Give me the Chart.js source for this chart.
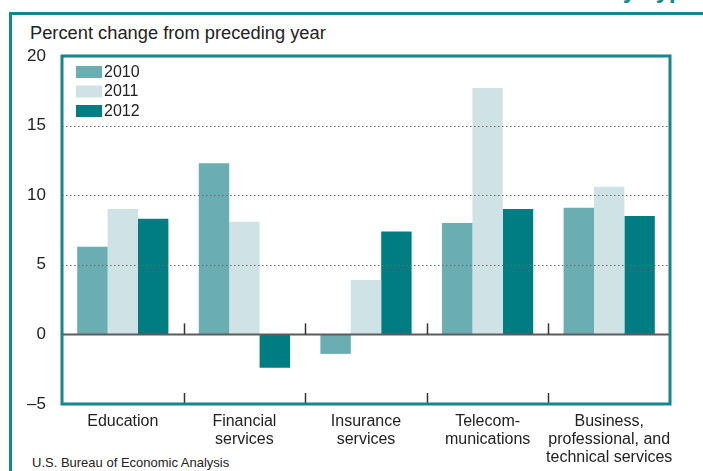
<!DOCTYPE html>
<html>
<head>
<meta charset="utf-8">
<script src="https://cdn.jsdelivr.net/npm/chart.js@4.4.1/dist/chart.umd.min.js"></script>
<style>
  html, body { margin: 0; padding: 0; background: #fff; }
  body { width: 703px; height: 471px; position: relative; overflow: hidden; font-family: "Liberation Sans", Arial, sans-serif; }
  #frame { position: absolute; left: 9px; top: 12px; width: 720px; height: 480px; border: 3px solid #14878c; box-sizing: border-box; }
  #topfrag { position: absolute; right: 6px; top: -22px; font: bold 24px/24px "Liberation Sans", Arial, sans-serif; color: #14878c; white-space: nowrap; }
  #ytitle { position: absolute; left: 30px; top: 22px; font-size: 18.3px; color: #222; white-space: nowrap; }
  #source { position: absolute; left: 32px; top: 455px; font-size: 13px; color: #222; white-space: nowrap; }
  #c { position: absolute; left: 0; top: 0; }
</style>
</head>
<body>
<div id="topfrag">by Type</div>
<div id="frame"></div>
<div id="ytitle">Percent change from preceding year</div>
<div id="source">U.S. Bureau of Economic Analysis</div>
<canvas id="c" width="703" height="471"></canvas>
<script>
const categories = [
  ["Education"],
  ["Financial", "services"],
  ["Insurance", "services"],
  ["Telecom-", "munications"],
  ["Business,", "professional, and", "technical services"]
];
const seriesNames = ["2010", "2011", "2012"];
const values2010 = [6.3, 12.3, -1.4, 8.0, 9.1];
const values2011 = [9.0, 8.1, 3.9, 17.7, 10.6];
const values2012 = [8.3, -2.4, 7.4, 9.0, 8.5];
const seriesColors = ["#6aadb3", "#cfe3e6", "#007d83"];
const yTicks = [-5, 0, 5, 10, 15, 20];

const FONT = '"Liberation Sans", Arial, sans-serif';
const TEAL = "#14878c";

const overlay = {
  id: "overlay",
  afterDatasetsDraw(chart) {
    const ctx = chart.ctx;
    const a = chart.chartArea;
    const ys = chart.scales.y, xs = chart.scales.x;
    ctx.save();
    // dotted grid lines
    ctx.setLineDash([1.5, 2.5]);
    ctx.strokeStyle = "#6d6d6d";
    ctx.lineWidth = 1;
    ys.ticks.forEach(t => {
      if (t.value === ys.min || t.value === ys.max || t.value === 0) return;
      const y = Math.round(ys.getPixelForValue(t.value)) + 0.5;
      ctx.beginPath(); ctx.moveTo(a.left, y); ctx.lineTo(a.right, y); ctx.stroke();
    });
    ctx.setLineDash([]);
    // zero line
    const y0 = ys.getPixelForValue(0);
    ctx.strokeStyle = "#5c5c5c";
    ctx.lineWidth = 2;
    ctx.beginPath(); ctx.moveTo(a.left, y0); ctx.lineTo(a.right, y0); ctx.stroke();
    // category divider ticks
    ctx.strokeStyle = "#333";
    ctx.lineWidth = 1.5;
    for (let i = 0; i < categories.length - 1; i++) {
      const x = Math.round((xs.getPixelForValue(i) + xs.getPixelForValue(i + 1)) / 2) + 0.5;
      ctx.beginPath(); ctx.moveTo(x, y0 - 11); ctx.lineTo(x, y0); ctx.stroke();
      ctx.beginPath(); ctx.moveTo(x, a.bottom - 11); ctx.lineTo(x, a.bottom); ctx.stroke();
    }
    // plot frame
    ctx.strokeStyle = TEAL;
    ctx.lineWidth = 3;
    ctx.strokeRect(a.left, a.top, a.right - a.left, a.bottom - a.top);
    // legend
    ctx.font = "16px " + FONT;
    ctx.textBaseline = "middle";
    ctx.textAlign = "left";
    chart.data.datasets.forEach((ds, i) => {
      const by = a.top + 10 + i * 19.5;
      ctx.fillStyle = ds.backgroundColor;
      ctx.fillRect(a.left + 14, by, 26, 12);
      ctx.fillStyle = "#222";
      ctx.fillText(ds.label, a.left + 42, by + 6.5);
    });
    ctx.restore();
  }
};

new Chart(document.getElementById("c"), {
  type: "bar",
  data: {
    labels: categories,
    datasets: [
      { label: seriesNames[0], data: values2010, backgroundColor: seriesColors[0] },
      { label: seriesNames[1], data: values2011, backgroundColor: seriesColors[1] },
      { label: seriesNames[2], data: values2012, backgroundColor: seriesColors[2] }
    ]
  },
  options: {
    responsive: false,
    animation: false,
    events: [],
    layout: { padding: { left: 0, top: 56, right: 33, bottom: 0 } },
    datasets: { bar: { categoryPercentage: 0.75, barPercentage: 1.0, borderWidth: 0 } },
    plugins: { legend: { display: false }, tooltip: { enabled: false }, title: { display: false } },
    scales: {
      x: {
        grid: { display: false },
        border: { display: false },
        ticks: { color: "#222", font: { family: FONT, size: 16, lineHeight: 1.15 }, padding: 0, maxRotation: 0, autoSkip: false },
        afterFit(s) { s.height = 67; }
      },
      y: {
        min: -5, max: 20,
        grid: { display: false },
        border: { display: false },
        afterBuildTicks(s) { s.ticks = yTicks.map(v => ({ value: v })); },
        ticks: {
          color: "#222", font: { family: FONT, size: 17 }, padding: 8,
          callback: v => v < 0 ? "\u2013" + Math.abs(v) : String(v)
        },
        afterFit(s) { s.width = 62; }
      }
    }
  },
  plugins: [overlay]
});
</script>
</body>
</html>
